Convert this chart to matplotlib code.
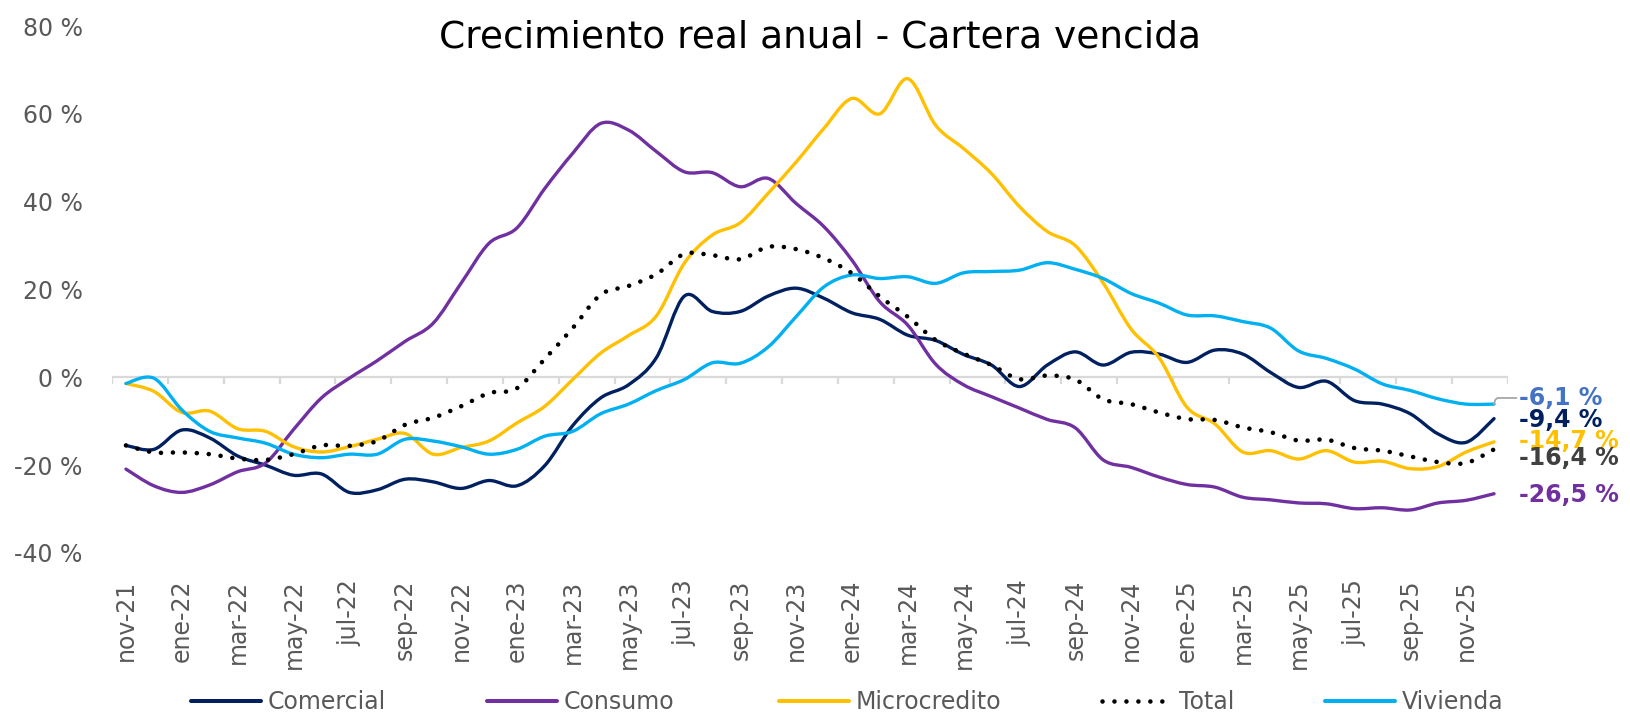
import numpy as np
import matplotlib
matplotlib.use("Agg")
import matplotlib.pyplot as plt
from matplotlib.path import Path
from matplotlib.patches import PathPatch
from matplotlib.lines import Line2D

# ---------------- data ----------------
months = ["nov-21", "dic-21", "ene-22", "feb-22", "mar-22", "abr-22", "may-22", "jun-22",
          "jul-22", "ago-22", "sep-22", "oct-22", "nov-22", "dic-22", "ene-23", "feb-23",
          "mar-23", "abr-23", "may-23", "jun-23", "jul-23", "ago-23", "sep-23", "oct-23",
          "nov-23", "dic-23", "ene-24", "feb-24", "mar-24", "abr-24", "may-24", "jun-24",
          "jul-24", "ago-24", "sep-24", "oct-24", "nov-24", "dic-24", "ene-25", "feb-25",
          "mar-25", "abr-25", "may-25", "jun-25", "jul-25", "ago-25", "sep-25", "oct-25",
          "nov-25", "dic-25"]

comercial = [-15.5, -16.4, -12.0, -13.8, -17.9, -20.0, -22.3, -22.0, -26.2, -25.6,
             -23.2, -23.8, -25.3, -23.5, -24.7, -20.1, -11.0, -4.7, -1.7, 4.5,
             18.5, 15.0, 15.0, 18.5, 20.3, 18.0, 14.7, 13.2, 9.6, 8.4,
             5.2, 2.8, -2.1, 2.8, 5.8, 2.8, 5.7, 5.3, 3.4, 6.2,
             5.3, 1.1, -2.3, -0.9, -5.3, -6.1, -8.3, -12.9, -14.8, -9.4]

consumo = [-20.9, -24.7, -26.2, -24.5, -21.5, -19.5, -11.9, -4.7, -0.2, 3.8,
           8.2, 12.3, 21.4, 30.5, 34.0, 43.0, 51.0, 57.8, 56.3, 51.4,
           46.8, 46.6, 43.4, 45.3, 39.6, 34.3, 26.7, 17.2, 11.9, 3.0,
           -1.7, -4.4, -7.0, -9.6, -11.5, -18.8, -20.5, -22.7, -24.4, -25.0,
           -27.3, -27.9, -28.6, -28.8, -29.9, -29.7, -30.2, -28.6, -28.0, -26.5]

microcredito = [-1.4, -3.2, -8.0, -7.7, -11.7, -12.3, -15.8, -17.0, -15.8, -14.1,
                -12.8, -17.5, -16.0, -14.5, -10.4, -6.6, -0.5, 5.5, 9.5, 14.0,
                26.0, 32.4, 35.2, 41.9, 49.0, 56.7, 63.5, 60.0, 68.0, 57.4,
                52.1, 46.4, 38.9, 33.2, 30.0, 21.5, 11.0, 4.5, -6.8, -10.6,
                -17.0, -16.7, -18.6, -16.7, -19.3, -19.1, -20.8, -20.3, -17.0, -14.7]

total = [-15.5, -17.1, -17.1, -17.5, -18.5, -18.8, -17.5, -15.5, -15.6, -14.5,
         -10.8, -9.2, -6.6, -3.6, -2.5, 4.2, 11.2, 18.8, 20.8, 23.5,
         28.1, 27.8, 26.9, 29.7, 29.2, 27.1, 23.7, 18.4, 13.8, 8.5,
         5.4, 2.8, -0.4, 0.4, -0.5, -5.0, -6.1, -8.0, -9.5, -9.7,
         -11.4, -12.5, -14.4, -14.2, -16.1, -16.7, -18.0, -19.3, -19.5, -16.4]

vivienda = [-1.4, -0.2, -7.4, -12.3, -13.8, -15.0, -17.5, -18.3, -17.5, -17.5,
            -14.1, -14.5, -15.8, -17.5, -16.4, -13.4, -12.3, -8.3, -6.1, -3.0,
            -0.5, 3.3, 3.2, 6.9, 13.8, 20.6, 23.3, 22.5, 22.9, 21.4,
            23.8, 24.1, 24.4, 26.1, 24.6, 22.5, 19.1, 16.9, 14.2, 14.0,
            12.7, 11.2, 6.0, 4.3, 1.9, -1.5, -3.0, -4.9, -6.1, -6.1]

series_names = ["Comercial", "Consumo", "Microcredito", "Total", "Vivienda"]
end_labels = ["-9,4 %", "-26,5 %", "-14,7 %", "-16,4 %", "-6,1 %"]
label_y = [-9.7, -26.9, -14.6, -18.4, -4.7]

colors = ["#002060", "#7030A0", "#FFC000", "#000000", "#00B0F0"]
label_colors = ["#002060", "#7030A0", "#FFC000", "#404040", "#4472C4"]

# ---------------- helpers ----------------
def smooth_path(xs, ys):
    """Excel-style smoothed line drawn as cubic Bezier segments."""
    n = len(xs)
    verts = [(xs[0], ys[0])]
    codes = [Path.MOVETO]
    for i in range(n - 1):
        x0, y0 = xs[max(i - 1, 0)], ys[max(i - 1, 0)]
        x1, y1 = xs[i], ys[i]
        x2, y2 = xs[i + 1], ys[i + 1]
        x3, y3 = xs[min(i + 2, n - 1)], ys[min(i + 2, n - 1)]
        verts += [(x1 + (x2 - x0) / 6.0, y1 + (y2 - y0) / 6.0),
                  (x2 - (x3 - x1) / 6.0, y2 - (y3 - y1) / 6.0),
                  (x2, y2)]
        codes += [Path.CURVE4] * 3
    return Path(verts, codes)

# ---------------- figure ----------------
W, H = 1631, 713
fig = plt.figure(figsize=(W / 100, H / 100), dpi=100)
ax = fig.add_axes([112 / W, 1 - 553 / H, (1508 - 112) / W, (553 - 26) / H])

x = np.arange(len(months))
data = [comercial, consumo, microcredito, total, vivienda]
lw = 2.4
dot_lw = 3.3
dotted = (0, (0.01, 2.6))

handles = []
for name, vals, col in zip(series_names, data, colors):
    p = smooth_path(x, vals)
    if name == "Total":
        patch = PathPatch(p, facecolor="none", edgecolor=col, lw=dot_lw,
                          linestyle=dotted, capstyle="round", zorder=4)
        h = Line2D([], [], color=col, lw=dot_lw, linestyle=dotted,
                   dash_capstyle="round")
    else:
        patch = PathPatch(p, facecolor="none", edgecolor=col, lw=lw,
                          capstyle="round", joinstyle="round", zorder=3)
        h = Line2D([], [], color=col, lw=2.9, solid_capstyle="round")
    ax.add_patch(patch)
    handles.append(h)

ax.set_xlim(-0.5, len(months) - 0.5)
ax.set_ylim(-40, 80)

# zero line with category tick marks
ax.axhline(0, color="#D9D9D9", lw=1.6, zorder=1)
ax.vlines(np.arange(-0.5, len(months), 2), -1.6, 0, color="#D9D9D9", lw=1.6, zorder=1)

for s in ax.spines.values():
    s.set_visible(False)

ax.set_yticks(np.arange(-40, 81, 20))
ax.set_yticklabels([f"{v} %" for v in range(-40, 81, 20)])
ax.set_xticks(x[::2])
ax.set_xticklabels(months[::2], rotation=90)
ax.tick_params(axis="y", length=0, pad=21, labelsize=17, labelcolor="#595959")
ax.tick_params(axis="x", length=0, pad=19, labelsize=17, labelcolor="#595959")

# end-of-series labels
for vals, txt, ly, lc in zip(data, end_labels, label_y, label_colors):
    if txt == "-6,1 %":
        ax.annotate(txt, xy=(x[-1], vals[-1]), xytext=(x[-1] + 0.9, ly),
                    ha="left", va="center", fontsize=17, fontweight="bold", color=lc,
                    arrowprops=dict(arrowstyle="-", color="#A6A6A6", lw=1.3,
                                    shrinkA=0, shrinkB=0,
                                    connectionstyle="angle,angleA=0,angleB=75,rad=3"),
                    annotation_clip=False)
    else:
        ax.text(x[-1] + 0.9, ly, txt, ha="left", va="center", fontsize=17,
                fontweight="bold", color=lc, clip_on=False)

fig.text(820 / W, 1 - 38 / H, "Crecimiento real anual - Cartera vencida",
         ha="center", va="center", fontsize=27, color="#000000")

# legend: one entry per slot, spread across the bottom like the original
legend_x = [191, 487, 779, 1102, 1325]
for h, name, lx in zip(handles, series_names, legend_x):
    lg = fig.legend([h], [name], loc="center left", bbox_to_anchor=(lx / W, 1 - 702 / H),
                    frameon=False, fontsize=17, handlelength=2.95, handletextpad=0.3,
                    borderpad=0, borderaxespad=0)
    for t in lg.get_texts():
        t.set_color("#595959")

fig.savefig("out.png", dpi=100)
